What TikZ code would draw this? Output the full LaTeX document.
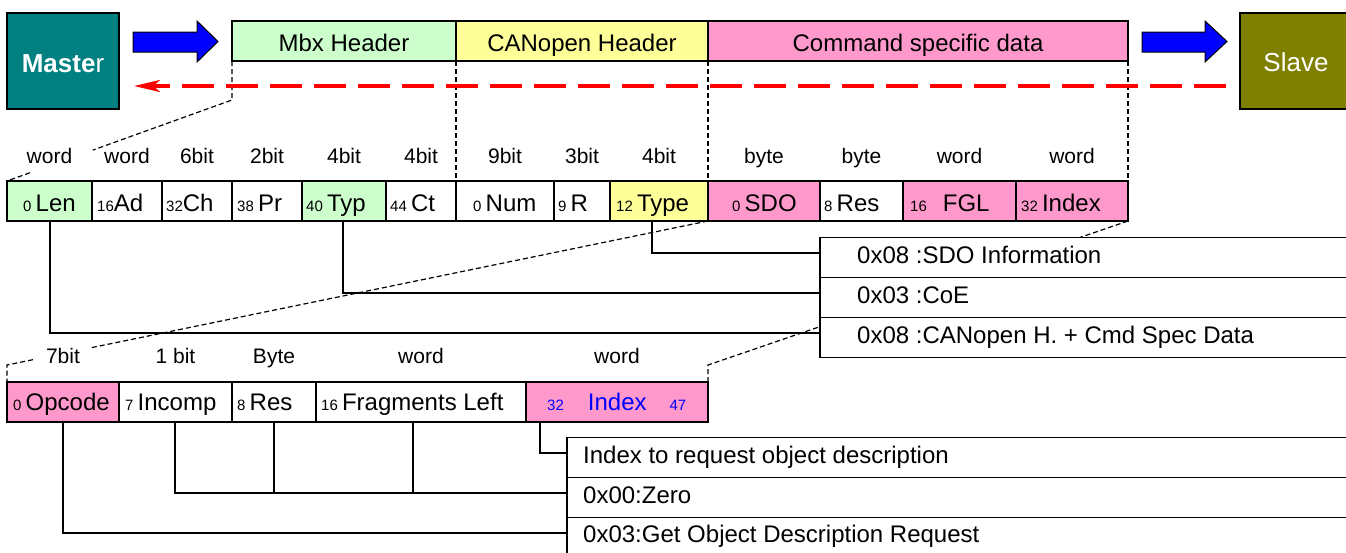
\documentclass[tikz,border=0pt]{standalone}
\usepackage{fontspec}
\setmainfont{Liberation Sans}
\usetikzlibrary{arrows.meta,calc}

\definecolor{mteal}{HTML}{008080}
\definecolor{molive}{HTML}{808000}
\definecolor{mgreen}{HTML}{CCFFCC}
\definecolor{myellow}{HTML}{FFFF99}
\definecolor{mpink}{HTML}{FF99CC}
\definecolor{mblue}{HTML}{0000FF}
\definecolor{mred}{HTML}{FF0000}

% small bit-offset numbers inside the fields
\newcommand\nsz{\fontsize{15}{15}\selectfont}

\begin{document}
\begin{tikzpicture}[x=1pt,y=-1pt,
  cell/.style={draw=black, line width=1.2pt, inner sep=0pt, outer sep=0pt,
               anchor=north west, minimum width=#1, minimum height=40pt},
  hdrtxt/.style={anchor=base, inner sep=0pt, font=\fontsize{24}{28}\selectfont},
  ftxt/.style={anchor=base west, inner sep=0pt, font=\fontsize{24}{28}\selectfont},
  lbl/.style={anchor=base, inner sep=0pt, font=\fontsize{21}{25}\selectfont},
  zoomline/.style={black, line width=1.2pt, dash pattern=on 5pt off 3pt},
  link/.style={black, line width=1.2pt},
  bigarrow/.style={draw=black, line width=1pt, fill=mblue},
]
\useasboundingbox (0,0) rectangle (1346,552);
\fill[white] (0,0) rectangle (1346,552);

% ---------- master / slave and the frame header ----------
\node[cell=112, minimum height=96pt, fill=mteal] (master) at (7,13) {};
\node[anchor=base, inner sep=0pt, text=white, font=\fontsize{26}{30}\selectfont]
  (t-master) at (63,72) {\textbf{Maste}r};
\node[cell=112, minimum height=96pt, fill=molive] (slave) at (1240,13) {};
\node[anchor=base, inner sep=0pt, text=white, font=\fontsize{26}{30}\selectfont]
  (t-slave) at (1296,71) {Slave};

\draw[bigarrow] (133,32) -- (197,32) -- (197,21) -- (218,41.5) -- (197,62)
  -- (197,52) -- (133,52) -- cycle;
\draw[bigarrow] (1142,32) -- (1205,32) -- (1205,21) -- (1227,41.5) -- (1205,62)
  -- (1205,52) -- (1142,52) -- cycle;

\node[cell=224, fill=mgreen]  (mbx)  at (232,21) {};
\node[cell=252, fill=myellow] (canh) at (456,21) {};
\node[cell=420, fill=mpink]   (cmd)  at (708,21) {};
\node[hdrtxt] (t-mbx)  at (344,51) {Mbx Header};
\node[hdrtxt] (t-canh) at (582,51) {CANopen Header};
\node[hdrtxt] (t-cmd)  at (918,51) {Command specific data};

% ---------- mailbox fields ----------
\node[cell=85,  fill=mgreen]  (len)  at (7,181) {};
\node[cell=70,  fill=white]   (ad)   at (92,181) {};
\node[cell=70,  fill=white]   (ch)   at (162,181) {};
\node[cell=70,  fill=white]   (pr)   at (232,181) {};
\node[cell=84,  fill=mgreen]  (typ)  at (302,181) {};
\node[cell=70,  fill=white]   (ct)   at (386,181) {};
\node[cell=98,  fill=white]   (num)  at (456,181) {};
\node[cell=56,  fill=white]   (r)    at (554,181) {};
\node[cell=98,  fill=myellow] (type) at (610,181) {};
\node[cell=112, fill=mpink]   (sdo)  at (708,181) {};
\node[cell=83,  fill=white]   (res)  at (820,181) {};
\node[cell=113, fill=mpink]   (fgl)  at (903,181) {};
\node[cell=112, fill=mpink]   (idx)  at (1016,181) {};

\node[ftxt] (t-len)  at ($(len.north west)+(16,30.5)$)  {{\nsz 0 }Len};
\node[ftxt] (t-ad)   at ($(ad.north west)+(5,30.5)$)    {{\nsz 16}Ad};
\node[ftxt] (t-ch)   at ($(ch.north west)+(4,30.5)$)    {{\nsz 32}Ch};
\node[ftxt] (t-pr)   at ($(pr.north west)+(5,30.5)$)    {{\nsz 38 }Pr};
\node[ftxt] (t-typ)  at ($(typ.north west)+(4,30.5)$)   {{\nsz 40 }Typ};
\node[ftxt] (t-ct)   at ($(ct.north west)+(4,30.5)$)    {{\nsz 44 }Ct};
\node[ftxt] (t-num)  at ($(num.north west)+(17,30.5)$)  {{\nsz 0 }Num};
\node[ftxt] (t-r)    at ($(r.north west)+(4,30.5)$)     {{\nsz 9 }R};
\node[ftxt] (t-type) at ($(type.north west)+(6,30.5)$)  {{\nsz 12 }Type};
\node[ftxt] (t-sdo)  at ($(sdo.north west)+(24,30.5)$)  {{\nsz 0 }SDO};
\node[ftxt] (t-res)  at ($(res.north west)+(4,30.5)$)   {{\nsz 8 }Res};
\node[ftxt] (t-fgl)  at ($(fgl.north west)+(7,30.5)$)   {{\nsz 16}\hspace{16pt}FGL};
\node[ftxt] (t-idx)  at ($(idx.north west)+(5,30.5)$)   {{\nsz 32 }Index};

\node[lbl] (w-len)  at ($(len.north)+(0,-18)$)  {word};
\node[lbl] (w-ad)   at ($(ad.north)+(0,-18)$)   {word};
\node[lbl] (w-ch)   at ($(ch.north)+(0,-18)$)   {6bit};
\node[lbl] (w-pr)   at ($(pr.north)+(0,-18)$)   {2bit};
\node[lbl] (w-typ)  at ($(typ.north)+(0,-18)$)  {4bit};
\node[lbl] (w-ct)   at ($(ct.north)+(0,-18)$)   {4bit};
\node[lbl] (w-num)  at ($(num.north)+(0,-18)$)  {9bit};
\node[lbl] (w-r)    at ($(r.north)+(0,-18)$)    {3bit};
\node[lbl] (w-type) at ($(type.north)+(0,-18)$) {4bit};
\node[lbl] (w-sdo)  at ($(sdo.north)+(0,-18)$)  {byte};
\node[lbl] (w-res)  at ($(res.north)+(0,-18)$)  {byte};
\node[lbl] (w-fgl)  at ($(fgl.north)+(0,-18)$)  {word};
\node[lbl] (w-idx)  at ($(idx.north)+(0,-18)$)  {word};

% ---------- SDO information fields ----------
\node[cell=112, fill=mpink] (opc)  at (7,382) {};
\node[cell=113, fill=white] (inc)  at (119,382) {};
\node[cell=84,  fill=white] (lres) at (232,382) {};
\node[cell=210, fill=white] (frag) at (316,382) {};
\node[cell=182, fill=mpink] (lidx) at (526,382) {};

\node[ftxt] (t-opc)  at ($(opc.north west)+(6,28.5)$)  {{\nsz 0 }Opcode};
\node[ftxt] (t-inc)  at ($(inc.north west)+(6,28.5)$)  {{\nsz 7 }Incomp};
\node[ftxt] (t-lres) at ($(lres.north west)+(5,28.5)$) {{\nsz 8 }Res};
\node[ftxt] (t-frag) at ($(frag.north west)+(5,28.5)$) {{\nsz 16 }Fragments Left};
\node[ftxt, text=mblue] (t-lidx) at ($(lidx.north west)+(21,28.5)$)
  {{\nsz 32}\hspace{24pt}Index\hspace{23pt}{\nsz 47}};

\node[lbl] (w-opc)  at ($(opc.north)+(0,-19)$)  {7bit};
\node[lbl] (w-inc)  at ($(inc.north)+(0,-19)$)  {1 bit};
\node[lbl] (w-lres) at ($(lres.north)+(0,-19)$) {Byte};
\node[lbl] (w-frag) at ($(frag.north)+(0,-19)$) {word};
\node[lbl] (w-lidx) at ($(lidx.north)+(0,-19)$) {word};

% ---------- zoom guides ----------
\coordinate (za) at (232,100);
\coordinate (zb) at (7,365);
\coordinate (zc) at (708,365);
\draw[zoomline] (mbx.south west) -- (za) -- ($(za)!0.618!(len.north west)$);
\draw[zoomline] ($(za)!0.898!(len.north west)$) -- (len.north west);
\draw[zoomline] (canh.south west) -- (num.north west);
\draw[zoomline] (cmd.south west) -- (sdo.north west);
\draw[zoomline] (cmd.south east) -- (idx.north east);
\draw[zoomline] (sdo.south west) -- ($(sdo.south west)!0.8816!(zb)$);
\draw[zoomline] ($(sdo.south west)!0.963!(zb)$) -- (zb) -- (opc.north west);
\draw[zoomline] (idx.south east) -- (zc) -- (lidx.north east);

% ---------- response path ----------
\coordinate (rstart) at (1226,86);
\coordinate (rend) at (134,86);
\draw[mred, line width=4pt, dash pattern=on 32pt off 12pt,
      -{Stealth[length=26pt,width=12pt,inset=7pt]}] (rstart) -- (rend);

% ---------- value descriptions ----------
\node[cell=560, fill=white] (d1) at (820,237.5) {};
\node[cell=560, fill=white] (d2) at (820,277.5) {};
\node[cell=560, fill=white] (d3) at (820,317.5) {};
\node[ftxt] (t-d1) at (857,263) {0x08 :SDO Information};
\node[ftxt] (t-d2) at (857,303) {0x03 :CoE};
\node[ftxt] (t-d3) at (857,343) {0x08 :CANopen H. + Cmd Spec Data};

\node[cell=800, fill=white] (bA) at (567,437.5) {};
\node[cell=800, fill=white] (bB) at (567,477.5) {};
\node[cell=800, fill=white] (bC) at (567,517.5) {};
\node[ftxt] (t-bA) at (583,463) {Index to request object description};
\node[ftxt] (t-bB) at (583,503) {0x00:Zero};
\node[ftxt] (t-bC) at (583,542) {0x03:Get Object Description Request};

% ---------- field to description links ----------
\draw[link] ($(type.south west)+(42,0)$) |- ($(d1.north west)+(0,15.5)$);
\draw[link] ($(typ.south west)+(41,0)$)  |- ($(d2.north west)+(0,15.5)$);
\draw[link] ($(len.south west)+(43,0)$)  |- ($(d3.north west)+(0,15.5)$);

\draw[link] ($(lidx.south west)+(14,0)$) |- ($(bA.north west)+(0,15.5)$);
\draw[link] ($(inc.south west)+(56,0)$)  |- ($(bB.north west)+(0,15.5)$);
\draw[link] ($(lres.south west)+(42,0)$) |- ($(bB.north west)+(0,15.5)$);
\draw[link] ($(frag.south west)+(97,0)$) |- ($(bB.north west)+(0,15.5)$);
\draw[link] ($(opc.south west)+(56,0)$)  |- ($(bC.north west)+(0,15.5)$);
\end{tikzpicture}
\end{document}
